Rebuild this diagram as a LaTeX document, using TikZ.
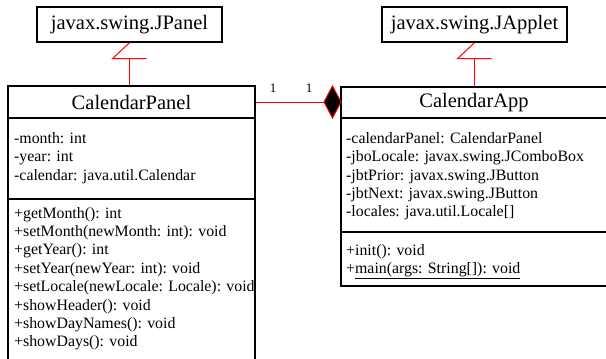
\documentclass[tikz,border=0pt]{standalone}
\usepackage{fontspec}
\setmainfont{Liberation Serif}
\begin{document}
\begin{tikzpicture}[x=1pt,y=-1pt,
  bx/.style={draw=black,line width=1.4pt},
  supbox/.style={draw=black,line width=1.4pt,minimum width=185pt,minimum height=35pt,inner sep=0pt,font=\fontsize{20.5}{24}\selectfont},
  hdr/.style={draw=black,line width=1.4pt,inner sep=0pt,font=\fontsize{20.5}{24}\selectfont},
  mem/.style={anchor=base west,inner sep=0pt,font=\fontsize{15.85}{18}\selectfont},
  rel/.style={draw=red,line width=1pt},
  mult/.style={inner sep=0pt,font=\fontsize{13}{15}\selectfont}]
\clip (0,0) rectangle (606,359);
\fill[white] (0,0) rectangle (606,359);
% superclasses
\node[supbox] (jpanel) at (129.5,24.5) {javax.swing.JPanel};
\node[supbox] (japplet) at (474.5,24.5) {javax.swing.JApplet};
% CalendarPanel
\node[hdr,minimum width=247pt,minimum height=32pt] (panel) at (131.5,102) {CalendarPanel};
\draw[bx] (8,118) -- (8,380) (255,118) -- (255,380);
\draw[bx] (8,199) -- (255,199);
\foreach \t [count=\i] in {{-month: int},{-year: int},{-calendar: java.util.Calendar}}
  \node[mem] (pa\i) at (14,{143.3+18.4*(\i-1)}) {\t};
\foreach \t [count=\i] in {{+getMonth(): int},{+setMonth(newMonth: int): void},{+getYear(): int},{+setYear(newYear: int): void},{+setLocale(newLocale: Locale): void},{+showHeader(): void},{+showDayNames(): void},{+showDays(): void}}
  \node[mem] (pm\i) at (14,{218+18.4*(\i-1)}) {\t};
% CalendarApp
\node[hdr,minimum width=279pt,minimum height=31pt] (app) at (480.5,102.5) {};
\node[inner sep=0pt,font=\fontsize{20.5}{24}\selectfont] (apptitle) at (474,102.5) {CalendarApp};
\draw[bx] (341,118) rectangle (620,286);
\draw[bx] (341,232) -- (620,232);
\foreach \t [count=\i] in {{-calendarPanel: CalendarPanel},{-jboLocale: javax.swing.JComboBox},{-jbtPrior: javax.swing.JButton},{-jbtNext: javax.swing.JButton},{-locales: java.util.Locale[]}}
  \node[mem] (aa\i) at (346,{143.3+18.4*(\i-1)}) {\t};
\node[mem] (am1) at (346,255) {+init(): void};
\node[mem] (am2) at (346,273) {+\underline{main(args: String[]): void}};
% inheritance
\coordinate (t1) at ([yshift=-16pt]jpanel.south);
\draw[rel] (panel.north -| jpanel.south) -- (t1);
\draw[rel] (jpanel.south) -- ++(-17,16) -- ++(34,0);
\coordinate (t2) at ([yshift=-16pt]japplet.south);
\draw[rel] (app.north -| japplet.south) -- (t2);
\draw[rel] (japplet.south) -- ++(-17,16) -- ++(34,0);
% composition
\coordinate (dl) at (324,102);
\draw[rel] (panel.east) -- (dl);
\draw[draw=red,line width=1pt,fill=black] (dl) -- (332.5,86) -- (341,102) -- (332.5,118) -- cycle;
\node[mult] (m1) at (273,88) {1};
\node[mult] (m2) at (309,88) {1};
\end{tikzpicture}
\end{document}
